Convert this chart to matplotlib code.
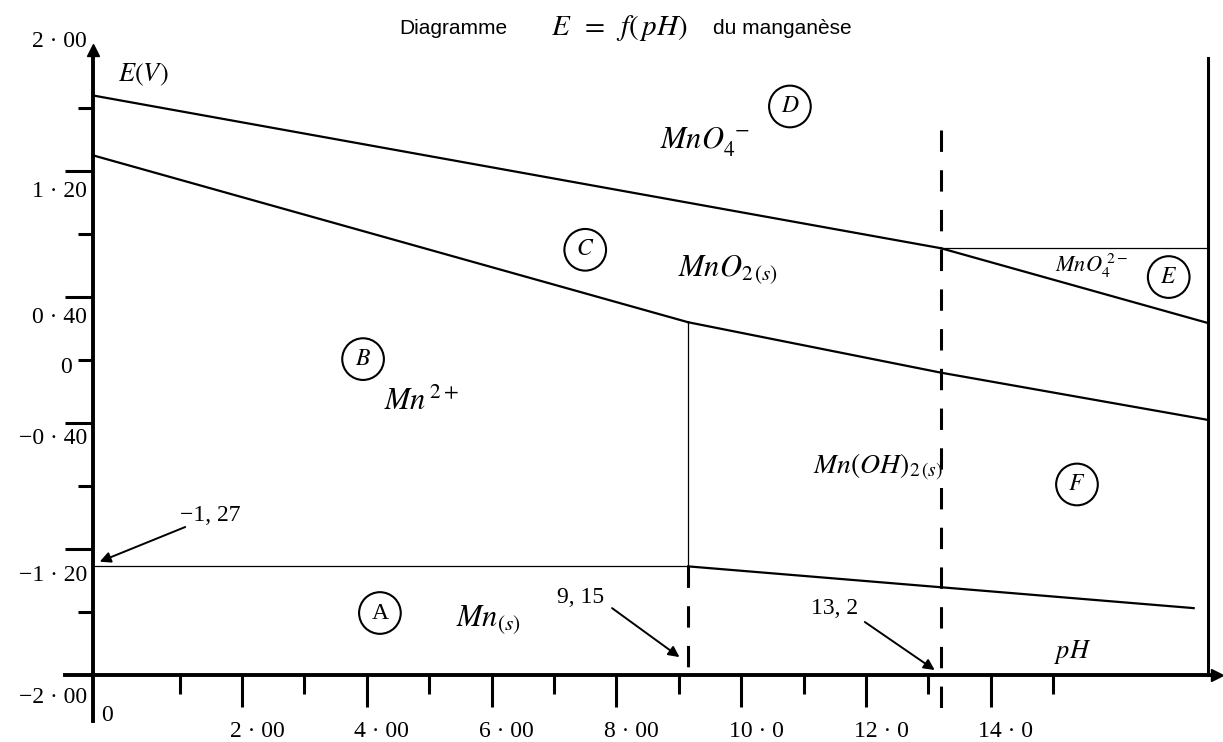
import numpy as np
import matplotlib.pyplot as plt

plt.rcParams["mathtext.fontset"] = "stix"
plt.rcParams["font.family"] = ["Liberation Serif", "DejaVu Serif"]

# boundary lines of the E = f(pH) diagram (pH, E in volts)
ph_axis = -0.39          # the E axis is drawn a little left of pH 0
ph_right = 17.48         # right-hand border of the drawing

ph_mno4_mno2 = [ph_axis, 13.2]
e_mno4_mno2 = [1.68, 0.71]
ph_mno2_mn2 = [ph_axis, 9.15]
e_mno2_mn2 = [1.30, 0.24]
ph_mno2_mnoh2 = [9.15, 13.2, ph_right]
e_mno2_mnoh2 = [0.24, -0.08, -0.38]
ph_mno4_mno42 = [13.2, ph_right]
e_mno4_mno42 = [0.71, 0.71]
ph_mno42_mno2 = [13.2, ph_right]
e_mno42_mno2 = [0.71, 0.235]
ph_mn2_mn = [ph_axis, 9.15]
e_mn2_mn = [-1.31, -1.31]
ph_mnoh2_mn = [9.15, 17.25]
e_mnoh2_mn = [-1.31, -1.575]

ph_limits = [9.15, 13.2]   # pH of precipitation / MnO4 2- frontier

x_major = [2, 4, 6, 8, 10, 12, 14]
x_labels = ["2 · 00", "4 · 00", "6 · 00", "8 · 00", "10 · 0", "12 · 0", "14 · 0"]
x_minor = [1, 3, 5, 7, 9, 11, 13, 15]
y_major = [1.2, 0.4, -0.4, -1.2]
y_minor = [1.6, 0.8, 0.0, -0.8, -1.6]
y_label_vals = [2.0, 1.2, 0.4, 0.0, -0.4, -1.2, -2.0]
y_labels = ["2 · 00", "1 · 20", "0 · 40", "0", "−0 · 40", "−1 · 20", "−2 · 00"]
y_label_pos = [2.02, 1.067, 0.273, -0.05, -0.495, -1.365, -2.14]

# region letters (circled) and species names
regions = ["A", "B", "C", "D", "E", "F"]
region_ph = [4.21, 3.94, 7.50, 10.78, 16.85, 15.38]
region_e = [-1.606, 0.006, 0.70, 1.61, 0.527, -0.79]
species = [r"$Mn_{(s)}$", r"$Mn^{\,2+}$", r"$MnO_{2\,(s)}$", r"$MnO_4^{\;-}$",
           r"$MnO_4^{\;2-}$", r"$Mn(OH)_{2\,(s)}$"]
species_ph = [5.94, 4.88, 9.79, 9.42, 15.62, 12.19]
species_e = [-1.65, -0.27, 0.571, 1.38, 0.60, -0.68]
species_size = [22, 22, 22, 22, 16, 20]

fig = plt.figure(figsize=(12.23, 7.42), dpi=100)
ax = fig.add_axes([0, 0, 1, 1])
ax.set_xlim(-1.878, 17.72)
ax.set_ylim(-2.425, 2.286)

# axes drawn as crossing lines with arrows
for s in ["top", "right"]:
    ax.spines[s].set_visible(False)
ax.spines["left"].set_position(("data", ph_axis))
ax.spines["bottom"].set_position(("data", -2.0))
ax.spines["left"].set_bounds(-2.29, 1.96)
ax.spines["bottom"].set_bounds(-0.83, 17.6)
ax.spines["left"].set_linewidth(2.8)
ax.spines["bottom"].set_linewidth(2.8)
ax.plot([ph_axis], [1.97], marker="^", ms=9, color="black", clip_on=False)
ax.plot([17.62], [-2.0], marker=">", ms=9, color="black", clip_on=False)

ax.set_xticks(x_major)
ax.set_xticks(x_minor, minor=True)
ax.set_yticks(y_major)
ax.set_yticks(y_minor, minor=True)
ax.tick_params(axis="x", which="major", length=23, width=2.2, direction="out",
               labelbottom=False)
ax.tick_params(axis="x", which="minor", length=14, width=2.2, direction="out")
ax.tick_params(axis="y", which="major", length=20, width=2.2, direction="out",
               labelleft=False)
ax.tick_params(axis="y", which="minor", length=11, width=2.2, direction="out")

for v, lab in zip(x_major, x_labels):
    ax.text(v + 0.24, -2.356, lab, ha="center", va="center", fontsize=17)
for v, lab, pos in zip(y_label_vals, y_labels, y_label_pos):
    xr = -0.724 if v == 0 else -0.484
    ax.text(xr, pos, lab, ha="right", va="center", fontsize=17)
ax.text(-0.16, -2.254, "0", ha="center", va="center", fontsize=17)

ax.text(0.41, 1.81, r"$E(V)$", ha="center", va="center", fontsize=19)
ax.text(15.32, -1.854, r"$pH$", ha="center", va="center", fontsize=19)

# frontiers
thick = dict(color="black", lw=1.6)
thin = dict(color="black", lw=0.9)
dash = dict(color="black", lw=2.2, linestyle=(0, (7, 6)))
ax.plot(ph_mno4_mno2, e_mno4_mno2, **thick)
ax.plot(ph_mno2_mn2, e_mno2_mn2, **thick)
ax.plot(ph_mno2_mnoh2, e_mno2_mnoh2, **thick)
ax.plot(ph_mno42_mno2, e_mno42_mno2, **thick)
ax.plot(ph_mno4_mno42, e_mno4_mno42, **thin)
ax.plot(ph_mn2_mn, e_mn2_mn, **thin)
ax.plot(ph_mnoh2_mn, e_mnoh2_mn, **thick)
ax.plot([ph_limits[0]] * 2, [e_mno2_mn2[-1], e_mn2_mn[-1]], **thin)
ax.plot([ph_limits[0]] * 2, [e_mn2_mn[-1], -2.0], **dash)
ax.plot([ph_limits[1]] * 2, [1.46, -2.27], **dash)
ax.plot([ph_right] * 2, [1.92, -2.0], color="black", lw=2.2)

# annotations of special points
arrow = dict(arrowstyle="-|>", color="black", lw=1.4, mutation_scale=16,
             shrinkA=0, shrinkB=0)
ax.annotate("", xy=(-0.28, -1.28), xytext=(1.09, -1.06), arrowprops=arrow)
ax.annotate("", xy=(9.01, -1.886), xytext=(7.93, -1.575), arrowprops=arrow)
ax.annotate("", xy=(13.10, -1.968), xytext=(11.98, -1.663), arrowprops=arrow)
ax.text(1.49, -0.99, "−1, 27", ha="center", va="center", fontsize=17)
ax.text(7.43, -1.51, "9, 15", ha="center", va="center", fontsize=17)
ax.text(11.49, -1.58, "13, 2", ha="center", va="center", fontsize=17)

# circled region letters and species
ax.scatter(region_ph, region_e, s=900, facecolors="none", edgecolors="black",
           linewidths=1.5)
for lab, x, y in zip(regions, region_ph, region_e):
    ax.text(x, y, r"$\mathit{%s}$" % lab if lab != "A" else lab,
            ha="center", va="center", fontsize=17)
for lab, x, y, fs in zip(species, species_ph, species_e, species_size):
    ax.text(x, y, lab, ha="center", va="center", fontsize=fs)

# title, in three pieces to follow the spacing of the scan
ty = 1 - 28 / 742
fig.text(507 / 1223, ty, "Diagramme", ha="right", va="center", fontsize=15,
         family="Liberation Sans")
fig.text(619 / 1223, ty, r"$E\;\;=\;\;f(\,pH)$", ha="center", va="center",
         fontsize=21)
fig.text(713 / 1223, ty, "du manganèse", ha="left", va="center", fontsize=15,
         family="Liberation Sans")

fig.savefig("out.png", dpi=100)
